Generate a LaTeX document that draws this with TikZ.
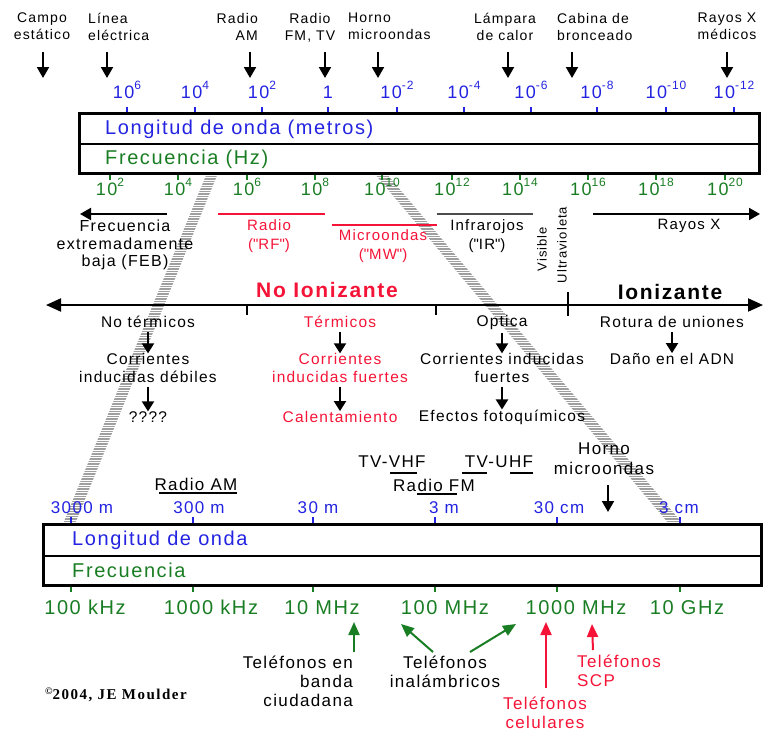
\documentclass[tikz,border=0pt]{standalone}
\usepackage{fontspec}
\setmainfont{Liberation Sans}[LetterSpace=8]
\newfontfamily\cpfont{Liberation Serif}[LetterSpace=10]
\usetikzlibrary{arrows.meta}
\definecolor{wlblue}{RGB}{35,35,225}
\definecolor{fqgreen}{RGB}{25,125,35}
\definecolor{ionred}{RGB}{245,20,55}
\newcommand{\fs}[2]{\fontsize{#1}{#2}\selectfont}
\newcommand{\pw}[1]{10\raisebox{0.45em}{\fs{12}{12}#1}}
\newcommand{\qt}[1]{(\textquotedbl#1\textquotedbl)}
\tikzset{
    toplbl/.style={font=\fs{14}{17}, align=center, anchor=north},
    numtop/.style={font=\fs{18}{20}, text=wlblue, anchor=base},
    numbot/.style={font=\fs{18}{20}, text=fqgreen, anchor=base},
    boxlbl/.style={font=\fs{20}{22}, anchor=west},
    bandlbl/.style={font=\fs{15}{19}, align=center},
    efflbl/.style={font=\fs{15.5}{17.5}, align=center},
    lowlbl/.style={font=\fs{17}{20}, align=center},
    phone/.style={font=\fs{17}{19}},
    downarr/.style={-{Triangle[width=12pt,length=11pt]}, line width=2pt},
    effarr/.style={-{Triangle[width=12pt,length=10pt]}, line width=2pt, shorten <=4pt},
    uparr/.style={-{Triangle[width=11pt,length=13pt]}, line width=2pt},
    stripe/.style={gray!75, line width=1.2pt},
}
\begin{document}
\begin{tikzpicture}[x=1pt, y=-1pt, every node/.style={inner sep=0pt}]
    \useasboundingbox (0,0) rectangle (764,731);
    % hatched zoom bands
    \begin{scope}
        \clip (207,173) -- (218,173) -- (75,524) -- (63,524) -- cycle;
        \foreach \y in {174,176.5,...,524} \draw[stripe] (40,\y) -- (240,\y);
    \end{scope}
    \begin{scope}
        \clip (374,173) -- (386,173) -- (683,524) -- (669,524) -- cycle;
        \foreach \y in {174,176.5,...,524} \draw[stripe] (360,\y) -- (700,\y);
    \end{scope}

    % sources
    \node[toplbl] (campo) at (42,13) {Campo\\estático};
    \node[toplbl, align=left, anchor=north west] (linea) at (88,13) {Línea\\eléctrica};
    \node[toplbl, align=right, anchor=north east] (radioam) at (258,13) {Radio\\AM};
    \node[toplbl] (radiofm) at (310,13) {Radio\\FM, TV};
    \node[toplbl, align=left, anchor=north west] (horno) at (348,13) {Horno\\microondas};
    \node[toplbl] (lampara) at (505,13) {Lámpara\\de calor};
    \node[toplbl, align=left, anchor=north west] (cabina) at (557,13) {Cabina de\\bronceado};
    \node[toplbl] (rayosx) at (727,13) {Rayos X\\médicos};
    \foreach \n/\x in {campo/43,linea/107,radioam/250,radiofm/325,horno/378,lampara/508,cabina/572,rayosx/727} {
        \coordinate (\n-t) at (\x,52);
        \coordinate (\n-h) at (\x,78);
        \draw[downarr] (\n-t) -- (\n-h);
    }

    % upper scale
    \foreach \x/\l [count=\i] in {127/\pw{6},195/\pw{4},262/\pw{2},328/1,397/\pw{-2},464/\pw{-4},531/\pw{-6},597/\pw{-8},666/\pw{-10},734/\pw{-12}} {
        \node[numtop] (wl\i) at (\x,98) {\l};
        \draw[wlblue, line width=1.5pt] (\x,107) -- (\x,113);
    }
    \foreach \x/\e [count=\i] in {110/2,178/4,247/6,315/8,382/10,452/12,520/14,588/16,656/18,725/20} {
        \node[numbot] (fq\i) at (\x,195) {\pw{\e}};
        \draw[fqgreen, line width=1.5pt] (\x,173) -- (\x,180);
    }
    \draw[line width=3pt] (79,113) rectangle (759,173);
    \draw[line width=2pt] (79,144) -- (759,144);
    \node[boxlbl, text=wlblue] (wlname) at (105,129) {Longitud de onda (metros)};
    \node[boxlbl, text=fqgreen] (fqname) at (105,159) {Frecuencia (Hz)};

    % bands
    \coordinate (feb-r) at (167,214);
    \coordinate (feb-l) at (80,214);
    \draw[downarr] (feb-r) -- (feb-l);
    \node[bandlbl, font=\fs{16}{17.5}] (feb) at (125,245) {Frecuencia\\extremadamente\\baja (FEB)};
    \draw[ionred, line width=2pt] (218,214) -- (325,214);
    \node[bandlbl, text=ionred] (rf) at (269,236) {Radio\\\qt{RF}};
    \draw[ionred, line width=2pt] (332,225) -- (437,225);
    \node[bandlbl, text=ionred] (mw) at (383,246) {Microondas\\\qt{MW}};
    \draw[black!70, line width=2pt] (437,214) -- (533,214);
    \node[bandlbl] (ir) at (487,236) {Infrarojos\\\qt{IR}};
    \node[font=\fs{13}{15}, rotate=90] (vis) at (542,249) {Visible};
    \node[font=\fs{13}{15}, rotate=90] (uv) at (562,245) {Ultravioleta};
    \coordinate (rx-l) at (593,214);
    \coordinate (rx-r) at (760,214);
    \draw[downarr] (rx-l) -- (rx-r);
    \node[bandlbl] (rx) at (689,226) {Rayos X};

    % ionising axis
    \node[font=\bfseries\fs{21}{24}, text=ionred] (noion) at (327,290) {No Ionizante};
    \node[font=\bfseries\fs{21}{24}] (ion) at (670,292) {Ionizante};
    \coordinate (ax-l) at (46,305);
    \coordinate (ax-r) at (763,305);
    \draw[{Triangle[width=13pt,length=15pt]}-{Triangle[width=13pt,length=15pt]}, line width=2pt] (ax-l) -- (ax-r);
    \draw[line width=2pt] (247,305) -- (247,315) (436,305) -- (436,315) (568,292) -- (568,316);

    % effects
    \node[efflbl] (notherm) at (148,322) {No térmicos};
    \node[efflbl] (cidebil) at (148,368) {Corrientes\\inducidas débiles};
    \node[efflbl] (qqq) at (148,417) {????};
    \node[efflbl, text=ionred] (therm) at (340,322) {Térmicos};
    \node[efflbl, text=ionred] (cifuerte) at (340,368) {Corrientes\\inducidas fuertes};
    \node[efflbl, text=ionred] (calor) at (340,417) {Calentamiento};
    \node[efflbl] (optica) at (502,322) {Optica};
    \node[efflbl] (ciopt) at (502,368) {Corrientes inducidas\\fuertes};
    \node[efflbl] (fotoq) at (502,417) {Efectos fotoquímicos};
    \node[efflbl] (rotura) at (672,322) {Rotura de uniones};
    \node[efflbl] (adn) at (672,359) {Daño en el ADN};
    \draw[effarr] (notherm) -- (cidebil);
    \draw[effarr] (cidebil) -- (qqq);
    \draw[effarr] (therm) -- (cifuerte);
    \draw[effarr] (cifuerte) -- (calor);
    \draw[effarr] (optica) -- (ciopt);
    \draw[effarr] (ciopt) -- (fotoq);
    \draw[effarr] (rotura) -- (adn);

    % broadcast bands
    \node[lowlbl] (ram) at (196,484) {Radio AM};
    \draw[line width=2pt] (159,493) -- (237,493);
    \node[lowlbl] (tvv) at (392,462) {TV-VHF};
    \draw[line width=2pt] (390,473) -- (417,473);
    \node[lowlbl] (tvu) at (499,462) {TV-UHF};
    \draw[line width=2pt] (462,473) -- (487,473) (510,473) -- (533,473);
    \node[lowlbl] (rfm) at (434,485) {Radio FM};
    \draw[line width=2pt] (417,494) -- (457,494);
    \node[lowlbl] (hornolow) at (604,459) {Horno\\microondas};
    \coordinate (hl-t) at (608,485);
    \coordinate (hl-h) at (608,512);
    \draw[downarr] (hl-t) -- (hl-h);

    % lower scale
    \foreach \x/\lx/\l [count=\i] in {71/82/3000 m,193/199/300 m,313/318/30 m,435/444/3 m,557/559/30 cm,680/679/3 cm} {
        \node[font=\fs{17}{20}, text=wlblue, anchor=base] (lw\i) at (\lx,513) {\l};
        \draw[wlblue, line width=1.5pt] (\x,517) -- (\x,524);
        \draw[fqgreen, line width=1.5pt] (\x,585) -- (\x,592);
    }
    \foreach \x/\l [count=\i] in {85/100 kHz,211/1000 kHz,322/10 MHz,445/100 MHz,576/1000 MHz,687/10 GHz}
        \node[font=\fs{20}{22}, text=fqgreen, anchor=base] (lf\i) at (\x,614) {\l};
    \draw[line width=3pt] (43,524) rectangle (761,585);
    \draw[line width=2pt] (43,556) -- (761,556);
    \node[boxlbl, text=wlblue] (lwname) at (72,540) {Longitud de onda};
    \node[boxlbl, text=fqgreen] (lfname) at (72,570) {Frecuencia};

    % phones
    \node[phone, align=right, anchor=north east] (cb) at (353,656) {Teléfonos en\\banda\\ciudadana};
    \node[phone, align=center, anchor=north] (inal) at (445,656) {Teléfonos\\inalámbricos};
    \node[phone, align=center, anchor=north, text=ionred] (cel) at (545,697) {Teléfonos\\celulares};
    \node[phone, align=left, anchor=north west, text=ionred] (scp) at (577,655) {Teléfonos\\SCP};
    \coordinate (cb-t) at (354,652);   \coordinate (cb-h) at (354,622);
    \coordinate (in1-t) at (433,652);  \coordinate (in1-h) at (401,624);
    \coordinate (in2-t) at (470,652);  \coordinate (in2-h) at (516,624);
    \coordinate (cel-t) at (546,688);  \coordinate (cel-h) at (546,622);
    \coordinate (scp-t) at (593,650);  \coordinate (scp-h) at (592,624);
    \draw[uparr, fqgreen] (cb-t) -- (cb-h);
    \draw[uparr, fqgreen] (in1-t) -- (in1-h);
    \draw[uparr, fqgreen] (in2-t) -- (in2-h);
    \draw[uparr, ionred] (cel-t) -- (cel-h);
    \draw[uparr, ionred] (scp-t) -- (scp-h);

    \node[font=\cpfont\bfseries\fs{15}{16}, anchor=west] (copy) at (45,695) {\raisebox{0.3em}{\fs{10}{10}©}2004, JE Moulder};
\end{tikzpicture}
\end{document}
